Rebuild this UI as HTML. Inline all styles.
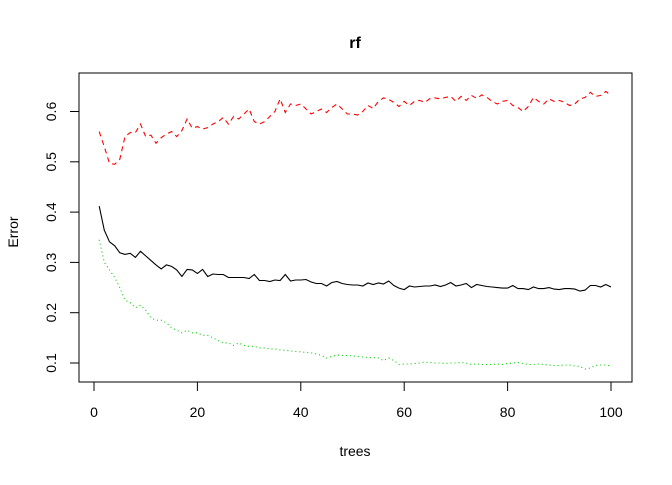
<!DOCTYPE html>
<html><head><meta charset="utf-8"><style>
body{margin:0;background:#fff}
svg text{font-family:"Liberation Sans",Arial,sans-serif;fill:#000}
</style></head><body>
<svg width="672" height="480">
<text x="355" y="48" font-size="16" font-weight="bold" text-anchor="middle">rf</text>
<rect x="79" y="73" width="553" height="309" fill="none" stroke="#000" stroke-width="1"/>
<g id="xaxis"></g>
<g id="yaxis"></g>
<text x="355" y="456" font-size="14" text-anchor="middle">trees</text>
<text transform="translate(18,232) rotate(-90)" font-size="14" text-anchor="middle">Error</text>
<g id="series"></g>
</svg>
<script>
const xTicks=[0,20,40,60,80,100];
const yTicks=[0.1,0.2,0.3,0.4,0.5,0.6];
const oob=[0.412,0.364,0.341,0.333,0.319,0.316,0.318,0.310,0.322,0.313,0.304,0.295,0.287,0.295,0.292,0.285,0.272,0.286,0.285,0.278,0.286,0.272,0.277,0.276,0.276,0.270,0.270,0.270,0.270,0.268,0.276,0.264,0.264,0.262,0.265,0.264,0.276,0.263,0.265,0.265,0.266,0.261,0.258,0.258,0.253,0.260,0.262,0.258,0.256,0.255,0.255,0.253,0.259,0.256,0.259,0.257,0.263,0.254,0.249,0.246,0.253,0.251,0.252,0.253,0.253,0.255,0.252,0.255,0.260,0.253,0.255,0.258,0.250,0.256,0.254,0.252,0.251,0.250,0.249,0.249,0.254,0.248,0.248,0.246,0.251,0.248,0.248,0.250,0.247,0.246,0.248,0.248,0.247,0.243,0.245,0.254,0.254,0.251,0.256,0.251];
const cls1=[0.560,0.530,0.497,0.495,0.505,0.550,0.558,0.558,0.575,0.550,0.553,0.537,0.548,0.555,0.560,0.550,0.562,0.585,0.567,0.570,0.565,0.568,0.575,0.580,0.588,0.575,0.590,0.585,0.595,0.605,0.580,0.575,0.580,0.590,0.600,0.625,0.598,0.615,0.612,0.615,0.605,0.595,0.600,0.605,0.598,0.608,0.615,0.605,0.595,0.595,0.593,0.600,0.612,0.606,0.620,0.627,0.624,0.618,0.610,0.620,0.612,0.620,0.622,0.618,0.626,0.627,0.625,0.628,0.630,0.620,0.630,0.622,0.632,0.626,0.633,0.628,0.620,0.615,0.620,0.622,0.612,0.608,0.600,0.610,0.628,0.620,0.615,0.625,0.620,0.622,0.618,0.612,0.615,0.625,0.628,0.638,0.630,0.632,0.640,0.632];
const cls2=[0.345,0.300,0.285,0.270,0.250,0.225,0.220,0.210,0.215,0.205,0.190,0.185,0.185,0.180,0.170,0.165,0.160,0.165,0.160,0.160,0.155,0.155,0.150,0.145,0.140,0.140,0.135,0.140,0.135,0.133,0.133,0.130,0.130,0.128,0.128,0.126,0.125,0.124,0.123,0.122,0.121,0.120,0.118,0.115,0.110,0.113,0.116,0.115,0.115,0.114,0.113,0.112,0.111,0.111,0.110,0.105,0.110,0.105,0.097,0.098,0.098,0.099,0.100,0.102,0.101,0.100,0.100,0.099,0.100,0.100,0.101,0.100,0.097,0.098,0.097,0.097,0.097,0.098,0.097,0.099,0.100,0.101,0.099,0.097,0.097,0.098,0.097,0.096,0.095,0.095,0.096,0.096,0.094,0.093,0.088,0.090,0.095,0.096,0.096,0.094];
const NS="http://www.w3.org/2000/svg";
const X=v=>94+v*5.17, Y=v=>363-(v-0.1)*503;
const svg=document.querySelector('svg');
const xa=document.getElementById('xaxis'), ya=document.getElementById('yaxis'), sg=document.getElementById('series');
function mk(t,a,p){const e=document.createElementNS(NS,t);for(const k in a)e.setAttribute(k,a[k]);p.appendChild(e);return e;}
let l=mk('line',{x1:X(0),x2:X(100),y1:382,y2:382,stroke:'#000'},xa);


xTicks.forEach(v=>{
 const t=mk('line',{x1:X(v),x2:X(v),y1:382,y2:391,stroke:'#000'},xa);
 
 
 const s=mk('text',{x:X(v),y:417,'font-size':14,'text-anchor':'middle'},xa);s.textContent=v;
 
 
});
l=mk('line',{x1:79,x2:79,y1:Y(0.1),y2:Y(0.6),stroke:'#000'},ya);


yTicks.forEach(v=>{
 const t=mk('line',{x1:70,x2:79,y1:Y(v),y2:Y(v),stroke:'#000'},ya);
 
 
 const s=mk('text',{transform:`translate(56,${Y(v)}) rotate(-90)`,'font-size':14,'text-anchor':'middle'},ya);s.textContent=v.toFixed(1);
 
 
});
function line(arr,color,dash,name){
 const p=mk('polyline',{points:arr.map((v,i)=>X(i+1).toFixed(1)+','+Y(v).toFixed(1)).join(' '),fill:'none',stroke:color,'stroke-width':1.1,'stroke-dasharray':dash},sg);
 
 
}
line(oob,'#000','none','oob-error-line');
line(cls1,'#ff0000','5,4','class1-error-line');
line(cls2,'#00cd00','1,3','class2-error-line');
</script>
</body></html>
